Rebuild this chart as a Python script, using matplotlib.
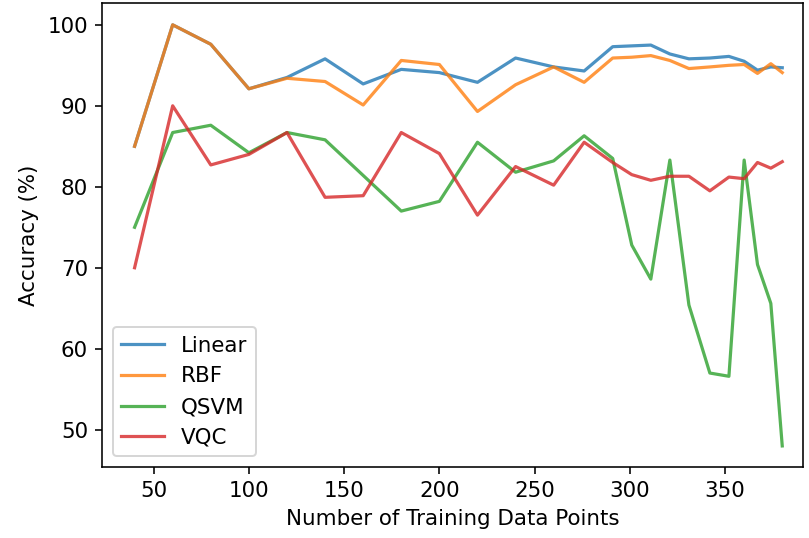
import matplotlib
matplotlib.use("Agg")
import matplotlib.pyplot as plt

# training set sizes and accuracies
n_points = [40, 60, 80, 100, 120, 140, 160, 180, 200, 220, 240, 260,
            276, 291, 301, 311, 321, 331, 342, 352, 360, 367, 374, 380]

linear = [85.0, 100.0, 97.6, 92.1, 93.5, 95.8, 92.7, 94.5, 94.1, 92.9, 95.9, 94.8,
          94.3, 97.3, 97.4, 97.5, 96.4, 95.8, 95.9, 96.1, 95.5, 94.4, 94.8, 94.7]
rbf = [85.0, 100.0, 97.6, 92.1, 93.4, 93.0, 90.1, 95.6, 95.1, 89.3, 92.6, 94.8,
       92.9, 95.9, 96.0, 96.2, 95.6, 94.6, 94.8, 95.0, 95.1, 94.0, 95.2, 94.1]
qsvm = [75.0, 86.7, 87.6, 84.2, 86.7, 85.8, 81.4, 77.0, 78.2, 85.5, 81.8, 83.2,
        86.3, 83.5, 72.8, 68.6, 83.3, 65.4, 57.0, 56.6, 83.3, 70.4, 65.6, 48.0]
vqc = [70.0, 90.0, 82.7, 84.0, 86.7, 78.7, 78.9, 86.7, 84.1, 76.5, 82.5, 80.2,
       85.5, 83.0, 81.5, 80.8, 81.3, 81.3, 79.5, 81.2, 81.0, 83.0, 82.3, 83.1]

plt.rcParams['font.size'] = 10.7

fig = plt.figure(figsize=(809 / 144, 538 / 144), dpi=144)
ax = fig.add_axes([0.1261, 0.1320, 0.8665, 0.8625])

ax.plot(n_points, linear, label='Linear', alpha=0.8, lw=1.6)
ax.plot(n_points, rbf, label='RBF', alpha=0.8, lw=1.6)
ax.plot(n_points, qsvm, label='QSVM', alpha=0.8, lw=1.6)
ax.plot(n_points, vqc, label='VQC', alpha=0.8, lw=1.6)

ax.set_xlim(22.9, 390.9)
ax.set_ylim(45.4, 102.7)
ax.set_xticks([50, 100, 150, 200, 250, 300, 350])
ax.set_yticks([50, 60, 70, 80, 90, 100])
plt.xlabel("Number of Training Data Points")
plt.ylabel("Accuracy (%)")
ax.legend(loc='lower left')

plt.savefig("out.png", dpi=144)
